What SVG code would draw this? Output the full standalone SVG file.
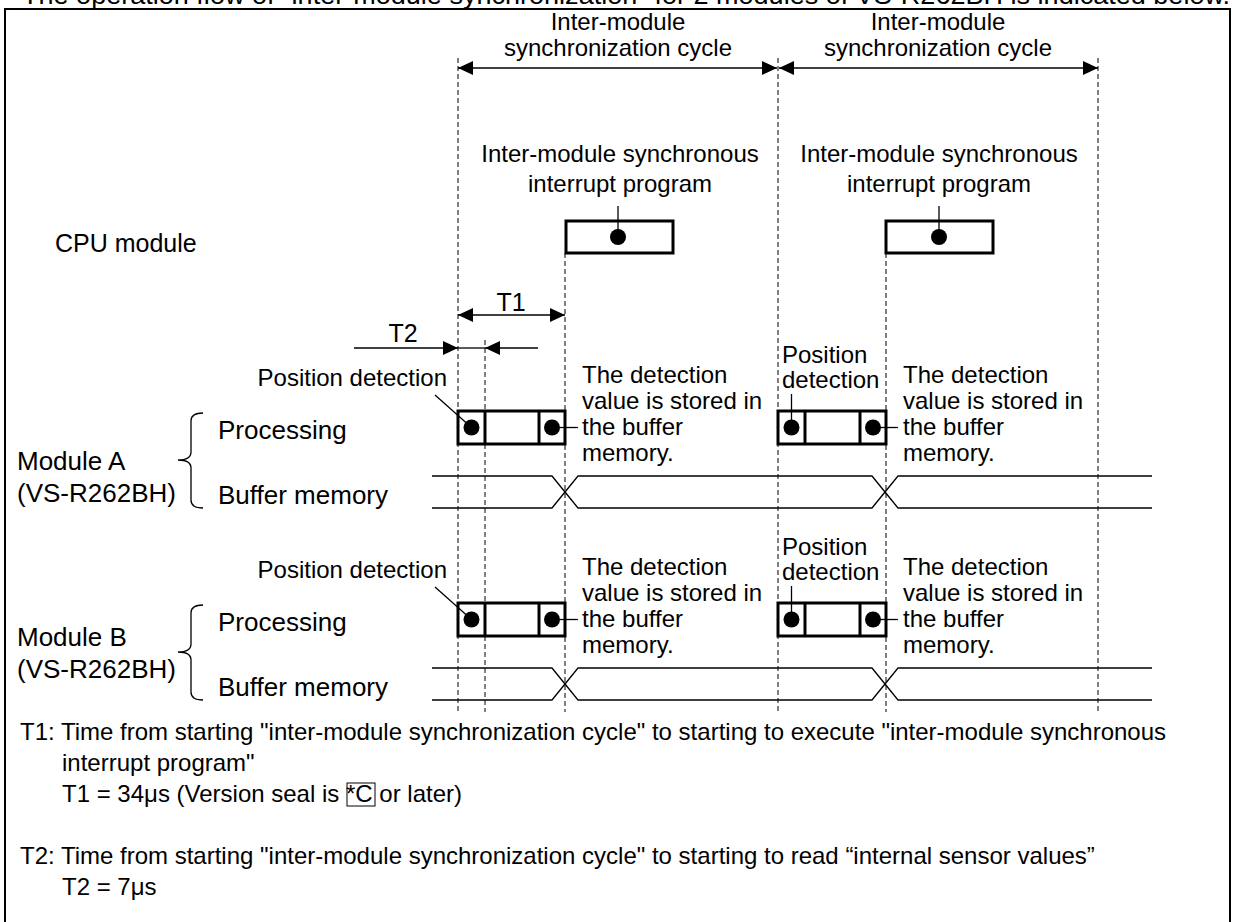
<svg xmlns="http://www.w3.org/2000/svg" width="1234" height="922" viewBox="0 0 1234 922">
<defs>
<marker id="ah" viewBox="0 0 15 14" refX="15" refY="7" markerWidth="15" markerHeight="14" markerUnits="userSpaceOnUse" orient="auto-start-reverse">
<path d="M0,0 L15,7 L0,14 z" fill="#000"/>
</marker>
<style>
text{font-family:"Liberation Sans",Arial,sans-serif;font-size:24px;fill:#000}
.big{font-size:26px}
.mid{text-anchor:middle}
.end{text-anchor:end}
.dash{stroke:#000;stroke-width:1;stroke-dasharray:5,3;fill:none}
.thin{stroke:#000;stroke-width:1.3;fill:none}
.box{stroke:#000;stroke-width:3;fill:#fff}
.arr{stroke:#000;stroke-width:1.3;fill:none}
.dot{fill:#000}
</style>
</defs>
<rect width="1234" height="922" fill="#fff"/>
<text x="22" y="4" style="font-size:25px" textLength="1208" lengthAdjust="spacingAndGlyphs">The operation flow of "inter-module synchronization" for 2 modules of VS-R262BH is indicated below.</text>
<rect x="5" y="9" width="1225" height="930" fill="none" stroke="#000" stroke-width="2"/>

<g id="guides">
<line class="dash" x1="458" y1="58" x2="458" y2="712"/>
<line class="dash" x1="485" y1="340" x2="485" y2="712"/>
<line class="dash" x1="565" y1="253" x2="565" y2="712"/>
<line class="dash" x1="778" y1="58" x2="778" y2="712"/>
<line class="dash" x1="886" y1="253" x2="886" y2="712"/>
<line class="dash" x1="1098" y1="58" x2="1098" y2="712"/>
</g>

<g id="cycle1">
<text class="mid" x="618" y="30">Inter-module</text>
<text class="mid" x="618" y="56">synchronization cycle</text>
</g>
<g id="cycle2">
<text class="mid" x="938" y="30">Inter-module</text>
<text class="mid" x="938" y="56">synchronization cycle</text>
</g>

<g id="cpu">
<text x="55" y="252" style="font-size:25px">CPU module</text>
</g>
<g id="cpu-prog1">
<text class="mid" x="620" y="162">Inter-module synchronous</text>
<text class="mid" x="620" y="192">interrupt program</text>
<rect class="box" x="566" y="221" width="107" height="32"/>
<circle class="dot" cx="618" cy="237" r="8"/>
</g>
<g id="cpu-prog2">
<text class="mid" x="939" y="162">Inter-module synchronous</text>
<text class="mid" x="939" y="192">interrupt program</text>
<rect class="box" x="886" y="221" width="107" height="32"/>
<circle class="dot" cx="939" cy="237" r="8"/>
</g>

<g id="timing-labels">
<text class="mid" x="511" y="311" style="font-size:25px">T1</text>
<text class="mid" x="403" y="342" style="font-size:25px">T2</text>
</g>

<g id="moduleA">
<text class="big" x="17" y="470">Module A</text>
<text class="big" x="17" y="502">(VS-R262BH)</text>
<path class="thin" d="M203,413 Q191,413 191,421 V452 Q191,460 178,460 Q191,460 191,468 V500 Q191,508 203,508"/>
<text class="big" x="218" y="439">Processing</text>
<text class="big" x="218" y="504">Buffer memory</text>
<g id="A-proc1">
<rect class="box" x="458" y="411" width="107" height="33"/>
<line stroke="#000" stroke-width="3" x1="485" y1="411" x2="485" y2="444"/>
<line stroke="#000" stroke-width="3" x1="539" y1="411" x2="539" y2="444"/>
<circle class="dot" cx="471.5" cy="427.5" r="8"/>
<circle class="dot" cx="552" cy="427.5" r="8"/>
<text class="end" x="447" y="386">Position detection</text>
<text x="582" y="383">The detection</text>
<text x="582" y="409">value is stored in</text>
<text x="582" y="435">the buffer</text>
<text x="582" y="461">memory.</text>
</g>
<g id="A-proc2">
<rect class="box" x="778" y="411" width="108" height="33"/>
<line stroke="#000" stroke-width="3" x1="805" y1="411" x2="805" y2="444"/>
<line stroke="#000" stroke-width="3" x1="860" y1="411" x2="860" y2="444"/>
<circle class="dot" cx="791.5" cy="427.5" r="8"/>
<circle class="dot" cx="873" cy="427.5" r="8"/>
<text x="782" y="363">Position</text>
<text x="782" y="388">detection</text>
<text x="903" y="383">The detection</text>
<text x="903" y="409">value is stored in</text>
<text x="903" y="435">the buffer</text>
<text x="903" y="461">memory.</text>
</g>
</g>

<g id="moduleB">
<text class="big" x="17" y="646">Module B</text>
<text class="big" x="17" y="678">(VS-R262BH)</text>
<path class="thin" d="M203,605 Q191,605 191,613 V644 Q191,652 178,652 Q191,652 191,660 V692 Q191,700 203,700"/>
<text class="big" x="218" y="631">Processing</text>
<text class="big" x="218" y="696">Buffer memory</text>
<g id="B-proc1">
<rect class="box" x="458" y="603" width="107" height="33"/>
<line stroke="#000" stroke-width="3" x1="485" y1="603" x2="485" y2="636"/>
<line stroke="#000" stroke-width="3" x1="539" y1="603" x2="539" y2="636"/>
<circle class="dot" cx="471.5" cy="619.5" r="8"/>
<circle class="dot" cx="552" cy="619.5" r="8"/>
<text class="end" x="447" y="578">Position detection</text>
<text x="582" y="575">The detection</text>
<text x="582" y="601">value is stored in</text>
<text x="582" y="627">the buffer</text>
<text x="582" y="653">memory.</text>
</g>
<g id="B-proc2">
<rect class="box" x="778" y="603" width="108" height="33"/>
<line stroke="#000" stroke-width="3" x1="805" y1="603" x2="805" y2="636"/>
<line stroke="#000" stroke-width="3" x1="860" y1="603" x2="860" y2="636"/>
<circle class="dot" cx="791.5" cy="619.5" r="8"/>
<circle class="dot" cx="873" cy="619.5" r="8"/>
<text x="782" y="555">Position</text>
<text x="782" y="580">detection</text>
<text x="903" y="575">The detection</text>
<text x="903" y="601">value is stored in</text>
<text x="903" y="627">the buffer</text>
<text x="903" y="653">memory.</text>
</g>
</g>

<g id="connectors">
<line class="arr" x1="458" y1="68" x2="777" y2="68" marker-start="url(#ah)" marker-end="url(#ah)"/>
<line class="arr" x1="779" y1="68" x2="1098" y2="68" marker-start="url(#ah)" marker-end="url(#ah)"/>
<line class="arr" x1="458" y1="315" x2="565" y2="315" marker-start="url(#ah)" marker-end="url(#ah)"/>
<line class="arr" x1="354" y1="348" x2="458" y2="348" marker-end="url(#ah)"/>
<line class="arr" x1="458" y1="348" x2="485" y2="348"/>
<line class="arr" x1="485" y1="348" x2="538" y2="348" marker-start="url(#ah)"/>
<line class="thin" x1="618" y1="206" x2="618" y2="237"/>
<line class="thin" x1="939" y1="206" x2="939" y2="237"/>
<line class="thin" x1="435" y1="395" x2="471.5" y2="427.5"/>
<line class="thin" x1="552" y1="427.5" x2="578" y2="427.5"/>
<line class="thin" x1="791.5" y1="394" x2="791.5" y2="427.5"/>
<line class="thin" x1="873" y1="427.5" x2="898" y2="427.5"/>
<line class="thin" x1="435" y1="587" x2="471.5" y2="619.5"/>
<line class="thin" x1="552" y1="619.5" x2="578" y2="619.5"/>
<line class="thin" x1="791.5" y1="586" x2="791.5" y2="619.5"/>
<line class="thin" x1="873" y1="619.5" x2="898" y2="619.5"/>
<path class="thin" d="M432,476 H552 L578,508 H872 L898,476 H1152"/>
<path class="thin" d="M432,508 H552 L578,476 H872 L898,508 H1152"/>
<path class="thin" d="M432,668 H552 L578,700 H872 L898,668 H1152"/>
<path class="thin" d="M432,700 H552 L578,668 H872 L898,700 H1152"/>
</g>

<g id="notes">
<text x="20" y="740">T1: Time from starting "inter-module synchronization cycle" to starting to execute "inter-module synchronous</text>
<text x="62" y="771">interrupt program"</text>
<text x="62" y="802">T1 = 34μs (Version seal is <tspan>*C</tspan> or later)</text>
<rect x="347" y="783" width="28" height="23" fill="none" stroke="#000" stroke-width="1"/>
<text x="20" y="864">T2: Time from starting "inter-module synchronization cycle" to starting to read “internal sensor values”</text>
<text x="62" y="895">T2 = 7μs</text>
</g>
</svg>
